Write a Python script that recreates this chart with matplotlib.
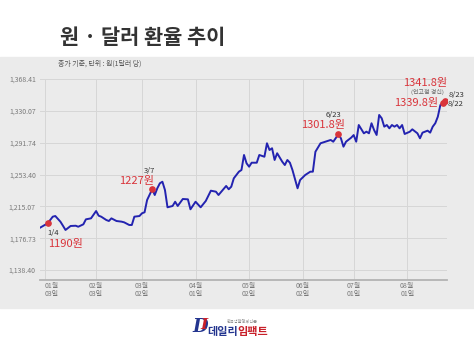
import matplotlib
matplotlib.use('Agg')
import matplotlib.pyplot as plt
from matplotlib.patches import Rectangle

plt.rcParams['font.family'] = ['Noto Sans CJK KR', 'DejaVu Sans']

# trading-day index (0 = 1/3) and closing rate
day_idx = [-2, 1, 3, 4, 6, 7, 8, 10, 12, 13, 15, 16, 18, 20, 21, 22, 24, 25, 26, 28,
           30, 31, 33, 34, 35, 37, 38, 39, 40, 42, 43, 44, 45, 46, 47, 48, 50, 51, 52, 54,
           56, 57, 59, 61, 63, 65, 67, 68, 71, 72, 73, 74, 76, 77, 78, 79, 80, 81, 83, 84,
           86, 87, 88, 89, 90, 91, 93, 94, 95, 96, 97, 99, 100, 102, 104, 105, 106, 108, 112, 113,
           115, 116, 117, 118, 120, 121, 122, 123, 125, 126, 127, 128, 129, 130, 131, 132, 133, 134, 135, 136,
           137, 138, 139, 140, 141, 143, 144, 146, 147, 148, 150, 151, 152, 153, 154, 155, 156, 157]
rate = [1189.3, 1194.6, 1202.6, 1203.4, 1196.6, 1191.7, 1186.6, 1191.4, 1191.7, 1190.5,
        1193.4, 1199.4, 1200.6, 1209.4, 1203.8, 1202.6, 1198.6, 1197.4, 1200.6, 1197.4,
        1196.6, 1195.8, 1192.6, 1192.6, 1202.6, 1203.4, 1206.7, 1207.9, 1222.7, 1235.6,
        1228.7, 1236.8, 1242.8, 1244.7, 1234.7, 1213.9, 1215.5, 1220.6, 1215.5, 1223.9,
        1223.5, 1211.5, 1220.6, 1213.9, 1221.5, 1233.9, 1232.7, 1228.7, 1239.6, 1235.6,
        1238.7, 1248.8, 1256.8, 1258.8, 1276.9, 1266.9, 1262.8, 1267.6, 1267.6, 1276.9,
        1274.8, 1291.0, 1282.9, 1285.0, 1270.9, 1279.0, 1268.8, 1264.8, 1270.9, 1267.6,
        1258.8, 1236.8, 1246.8, 1252.8, 1256.8, 1256.8, 1280.8, 1291.0, 1295.0, 1292.9,
        1301.8, 1297.0, 1286.9, 1292.9, 1297.7, 1300.9, 1292.9, 1313.0, 1303.0, 1305.0,
        1303.0, 1315.1, 1307.0, 1301.0, 1325.1, 1321.1, 1311.0, 1313.0, 1309.0, 1313.0,
        1311.0, 1313.0, 1309.0, 1313.0, 1302.2, 1304.9, 1307.8, 1303.0, 1297.0, 1303.8,
        1306.2, 1303.8, 1311.0, 1315.1, 1323.0, 1337.1, 1339.8, 1341.8]

tick_idx = [0, 20, 38, 59, 80, 101, 121, 142]
tick_labels = ['01월\n03일', '02월\n03일', '03월\n02일', '04월\n01일',
               '05월\n02일', '06월\n02일', '07월\n01일', '08월\n01일']
y_ticks = [1138.40, 1176.73, 1215.07, 1253.40, 1291.74, 1330.07, 1368.41]

# highlighted days
mark_idx = [1, 42, 115, 156, 157]
mark_rate = [1194.6, 1235.6, 1301.8, 1339.8, 1341.8]

W, H = 474, 345
RED = '#d9343b'
BLUE = '#2323b0'

fig = plt.figure(figsize=(W / 100, H / 100), dpi=100)
fig.patches.append(Rectangle((0, 1 - 308 / H), 1, (308 - 57) / H,
                             transform=fig.transFigure, color='#ebebeb', zorder=-5))

ax = fig.add_axes([40 / W, 1 - 280 / H, 407 / W, 201 / H])
ax.set_facecolor('none')
ax.plot(day_idx, rate, color=BLUE, lw=1.4, solid_joinstyle='round', zorder=3)
ax.plot(mark_idx, mark_rate, 'o', color=RED, ms=3.8, zorder=4)

ax.set_xlim(-2, 157.6)
ax.set_ylim(1126.35, 1368.41)
ax.set_yticks(y_ticks, [f'{v:,.2f}' for v in y_ticks])
ax.set_xticks(tick_idx, tick_labels)
ax.get_xticklabels()[0].set_ha('left')
ax.grid(color='#d6d6d6', lw=0.7)
ax.tick_params(length=0, labelsize=5, colors='#7a7a7a')
ax.tick_params(axis='x', pad=1.5)
ax.tick_params(axis='y', pad=3)
for t in ax.get_xticklabels():
    t.set_linespacing(0.95)
for s in ['top', 'left', 'right']:
    ax.spines[s].set_visible(False)
ax.spines['bottom'].set_color('#b3b3b3')
ax.spines['bottom'].set_linewidth(1.3)

def note(i, txt, dx, dy, size, color, ha):
    ax.annotate(txt, (mark_idx[i], mark_rate[i]), xytext=(dx * 0.72, dy * 0.72),
                textcoords='offset points', fontsize=size, color=color,
                ha=ha, va='center')

note(0, '1/4', 0, -10, 5.5, '#333333', 'left')
note(0, '1190원', 0, -21, 8, RED, 'left')
note(1, '3/7', -3, 18, 5.5, '#333333', 'center')
note(1, '1227원', 2, 8, 8, RED, 'right')
note(2, '6/23', -5, 19, 5.5, '#333333', 'center')
note(2, '1301.8원', 7, 9, 8, RED, 'right')
note(4, '1341.8원', 2, 18, 8, RED, 'right')
note(4, '(연고점 경신)', -2, 9.5, 4.3, '#666666', 'right')
note(3, '1339.8원', -5, 0, 8, RED, 'right')
note(4, '8/23', 3, 6, 5.5, '#333333', 'left')
note(3, '8/22', 5, -1.5, 5.5, '#333333', 'left')

fig.text(60 / W, 1 - 38 / H, '원 · 달러 환율 추이', fontsize=15, weight='bold',
         color='#333333', va='center')
fig.text(58 / W, 1 - 64 / H, '종가 기준, 단위 : 원(1달러 당)', fontsize=5,
         color='#555555', va='center')

# logo
fig.text(192 / W, 1 - 327 / H, 'D', fontsize=13, style='italic', weight='bold',
         color='#23358f', family='DejaVu Serif', va='center')
fig.text(200 / W, 1 - 325 / H, 'I', fontsize=11, style='italic', weight='bold',
         color='#c8202a', family='DejaVu Serif', va='center')
fig.text(227 / W, 1 - 321 / H, '한국생활경제신문', fontsize=3, color='#888888', va='center')
fig.text(207 / W, 1 - 331 / H, '데일리', fontsize=8, weight='bold', color='#23358f', va='center')
fig.text(237 / W, 1 - 331 / H, '임팩트', fontsize=8, weight='bold', color='#c8202a', va='center')

fig.savefig('out.png', dpi=100, facecolor='white')
